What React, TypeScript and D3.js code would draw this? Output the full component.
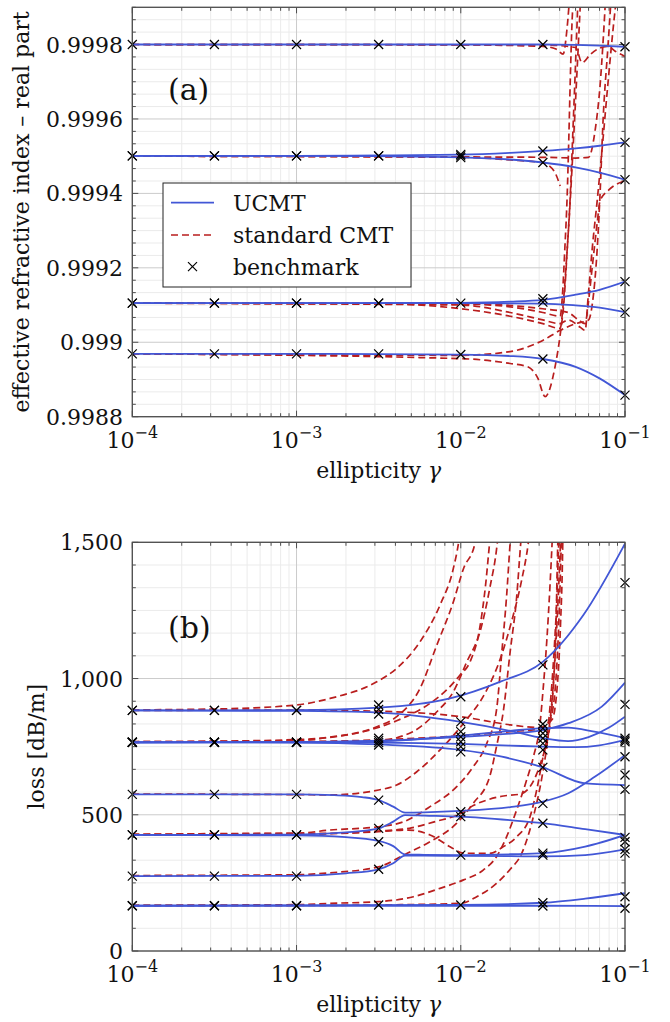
import React from "react";
import * as d3 from "d3";

type Pt = [number, number];

const FONT = "'DejaVu Serif', 'Liberation Serif', serif";
const BLUE = "#4257d6";
const RED = "#b91e1e";

// benchmark abscissae (ellipticity) and decade ticks
const benchX = [1e-4, 3.162e-4, 1e-3, 3.162e-3, 1e-2, 3.162e-2, 1e-1];
const xTickExps = [-4, -3, -2, -1];

// ---------- (a) effective index, real part ----------
const aTicks = [0.9988, 0.999, 0.9992, 0.9994, 0.9996, 0.9998];

const aBench: number[][] = [
  [0.9998, 0.999501, 0.999501, 0.999105, 0.999105, 0.998969],
  [0.9998, 0.999501, 0.999501, 0.999105, 0.999105, 0.998969],
  [0.9998, 0.999501, 0.999501, 0.999105, 0.999105, 0.998969],
  [0.9998, 0.999501, 0.999501, 0.999105, 0.999105, 0.998969],
  [0.9998, 0.999505, 0.999501, 0.999496, 0.999105, 0.998967],
  [0.9998, 0.999514, 0.999483, 0.999117, 0.999108, 0.998955],
  [0.999794, 0.999537, 0.999437, 0.999163, 0.999081, 0.998858],
];

const aUcmt: Pt[][] = [
  [[1e-4, 0.9998], [1e-2, 0.9998], [3.16e-2, 0.9998], [5e-2, 0.999799], [7e-2, 0.999797], [0.1, 0.999794]],
  [[1e-4, 0.999501], [1e-3, 0.999501], [3.16e-3, 0.999502], [1e-2, 0.999504], [2e-2, 0.999509], [3.16e-2, 0.999514], [5e-2, 0.999521], [7e-2, 0.999528], [0.1, 0.999537]],
  [[1e-4, 0.999501], [1e-3, 0.999501], [3.16e-3, 0.9995], [1e-2, 0.999497], [2e-2, 0.999491], [3.16e-2, 0.999483], [5e-2, 0.99947], [7e-2, 0.999456], [0.1, 0.999437]],
  [[1e-4, 0.999105], [1e-3, 0.999105], [1e-2, 0.999106], [2e-2, 0.999109], [3.16e-2, 0.999114], [5e-2, 0.999128], [7e-2, 0.999141], [0.1, 0.999163]],
  [[1e-4, 0.999105], [1e-2, 0.999105], [3.16e-2, 0.999104], [5e-2, 0.999099], [7e-2, 0.999093], [0.1, 0.999081]],
  [[1e-4, 0.998969], [1e-3, 0.998969], [1e-2, 0.998967], [2e-2, 0.998963], [3.16e-2, 0.998955], [5e-2, 0.998934], [7e-2, 0.998903], [0.1, 0.998858]],
];

const aCmt: Pt[][] = [
  [[1e-4, 0.9998], [1e-2, 0.999799], [0.0316, 0.999795], [0.038, 0.999788], [0.042, 0.999774], [0.0443, 0.99984], [0.0464, 0.99995]],
  [[1e-4, 0.9998], [0.0316, 0.999799], [0.05, 0.999792], [0.0548, 0.999751], [0.0614, 0.999773], [0.0705, 0.999791], [0.0789, 0.999795], [0.0871, 0.999782], [0.1, 0.999768]],
  [[1e-4, 0.9995], [1e-2, 0.999497], [0.02, 0.99949], [0.0316, 0.999482], [0.037, 0.99946], [0.0403, 0.99942]],
  [[1e-4, 0.9995], [0.0316, 0.999497], [0.05, 0.999495], [0.06, 0.999497], [0.0658, 0.99957], [0.0705, 0.99969], [0.0736, 0.99981], [0.0767, 0.99995]],
  [[1e-4, 0.999105], [1e-2, 0.999103], [0.02, 0.999095], [0.0316, 0.99908], [0.0403, 0.99907], [0.0415, 0.99912], [0.043, 0.99925], [0.0445, 0.9994], [0.0455, 0.99955], [0.0464, 0.9997], [0.0475, 0.99985], [0.049, 0.99995]],
  [[1e-4, 0.999105], [1e-2, 0.9991], [0.02, 0.99908], [0.0316, 0.99906], [0.04, 0.99905], [0.045, 0.99906], [0.0535, 0.99904], [0.0572, 0.999032], [0.0596, 0.99912], [0.0631, 0.99925], [0.0677, 0.99938], [0.0736, 0.99955], [0.0789, 0.9997], [0.085, 0.99985], [0.09, 0.99995]],
  [[1e-4, 0.999105], [3.16e-3, 0.999104], [1e-2, 0.99909], [0.02, 0.99907], [0.0316, 0.99905], [0.0403, 0.999037], [0.042, 0.9991], [0.044, 0.99922], [0.0464, 0.99938], [0.048, 0.9995], [0.05, 0.99965], [0.052, 0.9998], [0.054, 0.99995]],
  [[1e-4, 0.998969], [1e-2, 0.998956], [0.02, 0.998943], [0.0256, 0.998934], [0.0295, 0.998903], [0.0326, 0.998854], [0.0375, 0.998934], [0.0403, 0.99902], [0.0425, 0.99911], [0.0445, 0.99925], [0.0465, 0.9994], [0.048, 0.99955], [0.0495, 0.9997], [0.051, 0.99985], [0.052, 0.99995]],
  [[1e-4, 0.998969], [1e-2, 0.998965], [0.02, 0.998975], [0.0316, 0.999005], [0.0403, 0.999032], [0.05, 0.99905], [0.06, 0.99906], [0.0631, 0.9991], [0.0677, 0.99925], [0.0705, 0.9994], [0.0736, 0.9996], [0.0789, 0.9998], [0.083, 0.99995]],
  [[1e-4, 0.999105], [1e-2, 0.999104], [0.0316, 0.99909], [0.045, 0.99908], [0.052, 0.99906], [0.0572, 0.99905], [0.0596, 0.9991], [0.0631, 0.9992], [0.0677, 0.99932], [0.0705, 0.99938], [0.08, 0.99941], [0.1, 0.999434]],
];

// ---------- (b) loss ----------
const bTicks = [0, 500, 1000, 1500];

const bBench: number[][] = [
  [883, 883, 766, 766, 766, 766, 575, 426, 426, 275, 166, 166],
  [883, 883, 766, 766, 766, 766, 575, 426, 426, 275, 166, 166],
  [883, 883, 766, 766, 766, 766, 575, 426, 426, 275, 166, 166],
  [903, 887, 870, 781, 772, 765, 756, 554, 450, 401, 300, 169],
  [933, 841, 805, 786, 768, 750, 731, 511, 493, 352, 169],
  [1050, 833, 817, 799, 781, 762, 738, 674, 542, 469, 359, 352, 177, 165],
  [1352, 905, 781, 774, 768, 713, 646, 593, 417, 401, 373, 359, 199, 157],
];

const bUcmt: Pt[][] = [
  [[1e-4, 883], [1e-3, 884], [3.16e-3, 893], [8.6e-3, 927], [1.73e-2, 988], [3.17e-2, 1062], [5.58e-2, 1233], [0.1, 1495]],
  [[1e-4, 883], [1e-3, 881], [3.16e-3, 875], [1e-2, 841], [2e-2, 808], [3.16e-2, 781], [4.5e-2, 770], [6e-2, 785], [8e-2, 820], [0.1, 860]],
  [[1e-4, 766], [1e-3, 767], [3.16e-3, 770], [1e-2, 790], [2e-2, 808], [3.16e-2, 818], [4.5e-2, 820], [6.5e-2, 805], [0.1, 781]],
  [[1e-4, 766], [1e-3, 767], [3.16e-3, 772], [1e-2, 786], [2e-2, 798], [3.16e-2, 811], [4.52e-2, 836], [7.22e-2, 897], [0.1, 985]],
  [[1e-4, 766], [1e-3, 766], [3.16e-3, 765], [1e-2, 760], [2e-2, 754], [3.16e-2, 750], [5e-2, 748], [7e-2, 755], [0.1, 775]],
  [[1e-4, 766], [1e-3, 765], [3.16e-3, 758], [1e-2, 738], [1.78e-2, 713], [3.16e-2, 674], [5.72e-2, 615], [0.1, 609]],
  [[1e-4, 575], [1e-3, 575], [1.7e-3, 572], [2.5e-3, 565], [3.16e-3, 554], [3.88e-3, 530], [4.58e-3, 508], [6e-3, 509], [1e-2, 514], [2e-2, 528], [3.16e-2, 548], [4.52e-2, 579], [6.58e-2, 640], [0.1, 719]],
  [[1e-4, 426], [1e-3, 427], [2e-3, 435], [3.16e-3, 450], [3.88e-3, 475], [4.58e-3, 499], [6e-3, 497], [1e-2, 493], [2e-2, 480], [3.16e-2, 469], [5.72e-2, 447], [0.1, 426]],
  [[1e-4, 426], [1e-3, 424], [2e-3, 418], [3.16e-3, 404], [3.88e-3, 385], [4.58e-3, 354], [6e-3, 353], [1e-2, 352], [2e-2, 355], [3.16e-2, 359], [5.72e-2, 383], [0.1, 426]],
  [[1e-4, 275], [1e-3, 276], [2e-3, 285], [3.16e-3, 300], [3.88e-3, 322], [4.58e-3, 350], [6e-3, 350], [1e-2, 349], [2e-2, 348], [3.16e-2, 347], [5.72e-2, 352], [0.1, 373]],
  [[1e-4, 166], [1e-2, 169], [3.16e-2, 177], [5.72e-2, 192], [0.1, 212]],
  [[1e-4, 166], [1e-2, 166], [3.16e-2, 166], [0.1, 165]],
];

const bCmt: Pt[][] = [
  [[1e-4, 885], [3.16e-4, 888], [1e-3, 903], [1.6e-3, 927], [3.08e-3, 988], [4.07e-3, 1037], [5.65e-3, 1135], [7.48e-3, 1270], [9.02e-3, 1405], [9.7e-3, 1500], [1e-2, 1560]],
  [[1e-4, 768], [3.16e-4, 770], [1e-3, 776], [2.02e-3, 793], [3.08e-3, 823], [4.07e-3, 860], [5.65e-3, 964], [7.15e-3, 1123], [9.02e-3, 1282], [1.04e-2, 1404], [1.22e-2, 1496], [1.27e-2, 1560]],
  [[1e-4, 768], [1e-3, 772], [1.6e-3, 785], [2.55e-3, 805], [4.07e-3, 845], [6.5e-3, 909], [8.2e-3, 958], [9.9e-3, 1013], [1.14e-2, 1062], [1.3e-2, 1180], [1.42e-2, 1350], [1.5e-2, 1500], [1.55e-2, 1580]],
  [[1e-4, 766], [1e-3, 768], [3.08e-3, 772], [5.1e-3, 805], [7.15e-3, 878], [9.02e-3, 952], [1.09e-2, 1062], [1.31e-2, 1172], [1.5e-2, 1330], [1.67e-2, 1500], [1.72e-2, 1580]],
  [[1e-4, 576], [1e-3, 574], [1.6e-3, 573], [3.16e-3, 591], [4.07e-3, 609], [5.4e-3, 658], [7.48e-3, 738], [1.04e-2, 836], [1.44e-2, 958], [1.73e-2, 1068], [2.05e-2, 1215], [2.35e-2, 1362], [2.58e-2, 1500], [2.65e-2, 1560]],
  [[1e-4, 428], [1e-3, 432], [1.6e-3, 444], [3.16e-3, 456], [4.47e-3, 474], [6.5e-3, 530], [9.45e-3, 603], [1.19e-2, 676], [1.44e-2, 762], [1.65e-2, 884], [1.78e-2, 1100], [1.9e-2, 1300], [2e-2, 1500], [2.05e-2, 1580]],
  [[1e-4, 277], [1e-3, 280], [1.6e-3, 287], [3.16e-3, 309], [4.69e-3, 358], [6.5e-3, 401], [9.45e-3, 469], [1.19e-2, 542], [1.5e-2, 640], [1.65e-2, 750], [1.82e-2, 884], [2e-2, 1100], [2.19e-2, 1300], [2.32e-2, 1500], [2.38e-2, 1580]],
  [[1e-4, 428], [1e-3, 432], [1.6e-3, 432], [3.16e-3, 438], [4.8e-3, 444], [6.5e-3, 426], [8.6e-3, 383], [1.04e-2, 359], [1.5e-2, 358], [1.82e-2, 383], [2.19e-2, 419], [2.64e-2, 493], [2.9e-2, 591], [3.17e-2, 713], [3.5e-2, 836], [3.65e-2, 958], [3.8e-2, 1200], [3.9e-2, 1500], [3.95e-2, 1580]],
  [[1e-4, 426], [1e-3, 428], [3.16e-3, 440], [5e-3, 452], [7e-3, 475], [1e-2, 505], [1.2e-2, 535], [1.44e-2, 554], [1.82e-2, 569], [2.3e-2, 576], [2.64e-2, 603], [2.9e-2, 650], [3.1e-2, 700], [3.3e-2, 760], [3.5e-2, 900], [3.7e-2, 1100], [3.85e-2, 1300], [3.95e-2, 1500], [4e-2, 1580]],
  [[1e-4, 168], [1e-3, 170], [1.6e-3, 175], [3.16e-3, 181], [5.15e-3, 199], [7.48e-3, 230], [1.04e-2, 261], [1.37e-2, 297], [1.65e-2, 346], [1.9e-2, 419], [2.19e-2, 518], [2.52e-2, 628], [2.77e-2, 713], [3.04e-2, 836], [3.17e-2, 958], [3.35e-2, 1150], [3.5e-2, 1350], [3.6e-2, 1500], [3.65e-2, 1580]],
  [[1e-4, 166], [1e-3, 167], [3.16e-3, 169], [1e-2, 175], [1.25e-2, 199], [1.65e-2, 248], [2e-2, 300], [2.35e-2, 358], [2.8e-2, 505], [3.1e-2, 628], [3.4e-2, 787], [3.65e-2, 970], [3.85e-2, 1200], [4e-2, 1420], [4.1e-2, 1580]],
  [[1e-4, 883], [1e-3, 884], [3.16e-3, 880], [1e-2, 860], [2e-2, 830], [3e-2, 820], [3.6e-2, 850], [3.9e-2, 1000], [4.05e-2, 1200], [4.15e-2, 1400], [4.2e-2, 1580]],
  [[1e-4, 766], [1e-3, 768], [3.16e-3, 775], [1e-2, 790], [2e-2, 805], [3e-2, 815], [3.5e-2, 850], [3.8e-2, 1000], [3.95e-2, 1200], [4.05e-2, 1400], [4.12e-2, 1580]],
];

const L = 132.3;
const R = 625;

type PanelProps = {
  id: string;
  top: number;
  bottom: number;
  yDomain: [number, number];
  yTicks: number[];
  minorStep: number;
  yFormat: (v: number) => string;
  ucmt: Pt[][];
  cmt: Pt[][];
  bench: number[][];
  tag: string;
  tagY: number;
  yLabel: string;
  yLabelX: number;
  legend?: boolean;
};

function cross(cx: number, cy: number, s = 4.5) {
  return `M${cx - s},${cy - s}L${cx + s},${cy + s}M${cx - s},${cy + s}L${cx + s},${cy - s}`;
}

function Panel(p: PanelProps) {
  const x = d3.scaleLog().domain([1e-4, 1e-1]).range([L, R]);
  const y = d3.scaleLinear().domain(p.yDomain).range([p.bottom, p.top]);
  const line = d3
    .line<Pt>()
    .x((d) => x(d[0]))
    .y((d) => y(d[1]))
    .curve(d3.curveMonotoneX);

  const xMinor: number[] = [];
  for (let e = -4; e <= -2; e++) {
    for (let k = 2; k <= 9; k++) xMinor.push(k * Math.pow(10, e));
  }
  const yMinor: number[] = [];
  const n = Math.floor((p.yDomain[1] - p.yDomain[0]) / p.minorStep + 1e-6);
  for (let i = 0; i <= n; i++) {
    const v = p.yDomain[0] + i * p.minorStep;
    if (i % 6 !== 0) yMinor.push(v);
  }
  const xMajor = xTickExps.map((e) => Math.pow(10, e));
  const frame = "#4d4d4d";

  return (
    <g>
      <defs>
        <clipPath id={p.id}>
          <rect x={L} y={p.top} width={R - L} height={p.bottom - p.top} />
        </clipPath>
      </defs>
      {/* grid */}
      {xMinor.map((v, i) => (
        <line key={"xm" + i} x1={x(v)} x2={x(v)} y1={p.top} y2={p.bottom} stroke="#ebebeb" />
      ))}
      {yMinor.map((v, i) => (
        <line key={"ym" + i} x1={L} x2={R} y1={y(v)} y2={y(v)} stroke="#ebebeb" />
      ))}
      {xMajor.map((v, i) => (
        <line key={"xM" + i} x1={x(v)} x2={x(v)} y1={p.top} y2={p.bottom} stroke="#cbcbcb" />
      ))}
      {p.yTicks.map((v, i) => (
        <line key={"yM" + i} x1={L} x2={R} y1={y(v)} y2={y(v)} stroke="#cbcbcb" />
      ))}
      {/* ticks */}
      {xMinor.map((v, i) => (
        <g key={"xt" + i} stroke={frame}>
          <line x1={x(v)} x2={x(v)} y1={p.bottom} y2={p.bottom - 3.5} />
          <line x1={x(v)} x2={x(v)} y1={p.top} y2={p.top + 3.5} />
        </g>
      ))}
      {xMajor.map((v, i) => (
        <g key={"xT" + i} stroke={frame}>
          <line x1={x(v)} x2={x(v)} y1={p.bottom} y2={p.bottom - 6} />
          <line x1={x(v)} x2={x(v)} y1={p.top} y2={p.top + 6} />
        </g>
      ))}
      {yMinor.map((v, i) => (
        <g key={"yt" + i} stroke={frame}>
          <line x1={L} x2={L + 3.5} y1={y(v)} y2={y(v)} />
          <line x1={R} x2={R - 3.5} y1={y(v)} y2={y(v)} />
        </g>
      ))}
      {p.yTicks.map((v, i) => (
        <g key={"yT" + i} stroke={frame}>
          <line x1={L} x2={L + 6} y1={y(v)} y2={y(v)} />
          <line x1={R} x2={R - 6} y1={y(v)} y2={y(v)} />
        </g>
      ))}
      {/* curves */}
      <g clipPath={`url(#${p.id})`} fill="none">
        {p.cmt.map((c, i) => (
          <path key={"c" + i} d={line(c) || ""} stroke={RED} strokeWidth={1.7} strokeDasharray="7 4" />
        ))}
        {p.ucmt.map((c, i) => (
          <path key={"u" + i} d={line(c) || ""} stroke={BLUE} strokeWidth={1.8} />
        ))}
      </g>
      {p.bench.map((col, i) =>
        col.map((v, j) => (
          <path key={`b${i}-${j}`} d={cross(x(benchX[i]), y(v))} stroke="#000" strokeWidth={1.2} fill="none" />
        ))
      )}
      <rect x={L} y={p.top} width={R - L} height={p.bottom - p.top} fill="none" stroke={frame} strokeWidth={1.3} />
      {/* tick labels */}
      {p.yTicks.map((v, i) => (
        <text key={"yl" + i} x={123} y={y(v) + 8} textAnchor="end" fontSize={22} fill="#111" fontFamily={FONT}>
          {p.yFormat(v)}
        </text>
      ))}
      {xTickExps.map((e, i) => (
        <text key={"xl" + i} x={x(Math.pow(10, e))} y={p.bottom + 31} textAnchor="middle" fontSize={22} fill="#111" fontFamily={FONT}>
          10
          <tspan fontSize={16} dy={-10}>
            {"\u2212" + Math.abs(e)}
          </tspan>
        </text>
      ))}
      <text x={(L + R) / 2} y={p.bottom + 61} textAnchor="middle" fontSize={22} fill="#111" fontFamily={FONT}>
        ellipticity <tspan fontStyle="italic">γ</tspan>
      </text>
      <text
        transform={`translate(${p.yLabelX},${(p.top + p.bottom) / 2}) rotate(-90)`}
        textAnchor="middle"
        fontSize={22}
        fill="#111"
        fontFamily={FONT}
      >
        {p.yLabel}
      </text>
      <text x={168} y={p.tagY} fontSize={30} fill="#111" fontFamily={FONT}>
        {p.tag}
      </text>
      {p.legend && (
        <g fontFamily={FONT}>
          <rect x={163} y={183} width={248} height={104} fill="#fff" stroke="#222" strokeWidth={1} />
          <line x1={171} x2={214} y1={202.7} y2={202.7} stroke={BLUE} strokeWidth={1.8} />
          <line x1={171} x2={214} y1={235} y2={235} stroke={RED} strokeWidth={1.7} strokeDasharray="7 4" />
          <path d={cross(192.5, 266.7)} stroke="#000" strokeWidth={1.2} />
          <text x={233} y={211} fontSize={22} fill="#111">UCMT</text>
          <text x={233} y={243} fontSize={22} fill="#111">standard CMT</text>
          <text x={233} y={275} fontSize={22} fill="#111">benchmark</text>
        </g>
      )}
    </g>
  );
}

const fmtA = d3.format(".4~f");
const fmtB = d3.format(",");

export default function App() {
  return (
    <div style={{ position: "absolute", left: 0, top: 0, background: "#fff" }}>
      <svg width={670} height={1022} viewBox="0 0 670 1022">
        <rect width={670} height={1022} fill="#fff" />
        <Panel
          id="clipA"
          top={7.3}
          bottom={416.7}
          yDomain={[0.9988, 0.9999]}
          yTicks={aTicks}
          minorStep={0.0002 / 6}
          yFormat={(v) => fmtA(v)}
          ucmt={aUcmt}
          cmt={aCmt}
          bench={aBench}
          tag="(a)"
          tagY={100}
          yLabel="effective refractive index – real part"
          yLabelX={29}
          legend
        />
        <Panel
          id="clipB"
          top={542.3}
          bottom={951}
          yDomain={[0, 1500]}
          yTicks={bTicks}
          minorStep={500 / 6}
          yFormat={(v) => fmtB(v)}
          ucmt={bUcmt}
          cmt={bCmt}
          bench={bBench}
          tag="(b)"
          tagY={638}
          yLabel="loss [dB/m]"
          yLabelX={44}
        />
      </svg>
    </div>
  );
}
